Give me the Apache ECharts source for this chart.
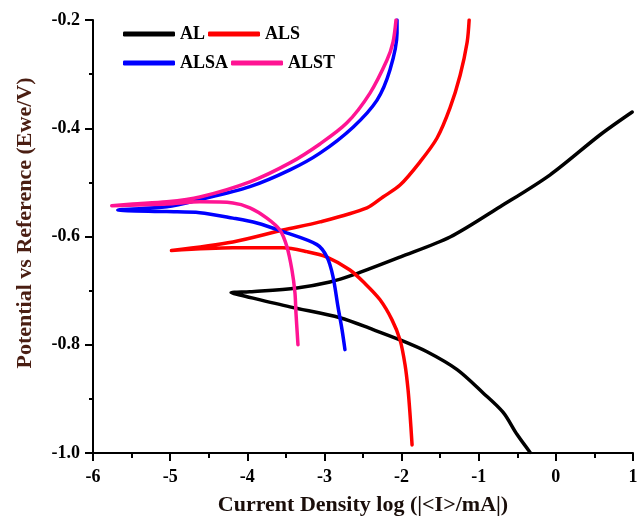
<!DOCTYPE html>
<html>
<head>
<meta charset="utf-8">
<script src="https://cdn.jsdelivr.net/npm/echarts@6/dist/echarts.min.js"></script>
<style>html,body{margin:0;padding:0;background:#fff;}#c{width:642px;height:524px;}</style>
</head>
<body>
<div id="c"></div>
<script>
// Series names
const seriesNames = ['AL', 'ALS', 'ALSA', 'ALST'];
// X tick labels / Y tick labels
const xTicks = [-6, -5, -4, -3, -2, -1, 0, 1];
const yTicks = [-1.0, -0.8, -0.6, -0.4, -0.2];

// AL: cathodic branch (far end -> Ecorr) and anodic branch (Ecorr -> far end)
const alCathodic = [[-0.333,-0.999],[-0.502,-0.966],[-0.683,-0.925],[-0.943,-0.889],[-1.280,-0.846],[-1.670,-0.813],[-2.020,-0.791],[-2.370,-0.772],[-2.798,-0.750],[-3.447,-0.730],[-4.096,-0.708],[-4.210,-0.704]];
const alAnodic = [[-4.210,-0.704],[-3.967,-0.702],[-3.357,-0.695],[-2.929,-0.684],[-2.630,-0.671],[-2.020,-0.638],[-1.371,-0.601],[-0.722,-0.545],[-0.074,-0.486],[0.575,-0.412],[0.990,-0.370]];

// ALS
const alsCathodic = [[-1.864,-0.985],[-1.890,-0.929],[-1.916,-0.883],[-1.955,-0.837],[-2.020,-0.791],[-2.124,-0.754],[-2.279,-0.717],[-2.474,-0.687],[-2.669,-0.662],[-2.967,-0.638],[-3.227,-0.628],[-3.538,-0.621],[-4.187,-0.621],[-4.983,-0.626]];
const alsAnodic = [[-4.983,-0.626],[-4.187,-0.610],[-3.538,-0.588],[-3.058,-0.573],[-2.448,-0.547],[-2.241,-0.527],[-2.020,-0.505],[-1.760,-0.462],[-1.540,-0.418],[-1.371,-0.362],[-1.241,-0.302],[-1.150,-0.241],[-1.124,-0.200]];

// ALSA
const alsaCathodic = [[-2.734,-0.809],[-2.772,-0.772],[-2.824,-0.730],[-2.889,-0.674],[-2.967,-0.638],[-3.097,-0.615],[-3.538,-0.591],[-3.875,-0.575],[-4.187,-0.566],[-4.615,-0.556],[-5.043,-0.554],[-5.679,-0.551]];
const alsaAnodic = [[-5.679,-0.551],[-5.043,-0.545],[-4.615,-0.532],[-3.966,-0.508],[-3.447,-0.477],[-3.058,-0.446],[-2.629,-0.398],[-2.318,-0.348],[-2.150,-0.292],[-2.059,-0.224],[-2.059,-0.200]];

// ALST
const alstCathodic = [[-3.343,-0.800],[-3.369,-0.741],[-3.382,-0.704],[-3.421,-0.662],[-3.486,-0.619],[-3.577,-0.588],[-3.746,-0.566],[-3.966,-0.547],[-4.187,-0.538],[-4.615,-0.536],[-5.043,-0.540],[-5.757,-0.543]];
const alstAnodic = [[-5.757,-0.543],[-5.485,-0.540],[-5.043,-0.536],[-4.615,-0.527],[-3.966,-0.499],[-3.447,-0.464],[-3.058,-0.429],[-2.708,-0.390],[-2.409,-0.335],[-2.189,-0.274],[-2.111,-0.241],[-2.072,-0.200]];

const colors = ['#000000', '#ff0000', '#0000ff', '#ff1493'];
const curves = [
  alCathodic.concat(alAnodic),
  alsCathodic.concat(alsAnodic),
  alsaCathodic.concat(alsaAnodic),
  alstCathodic.concat(alstAnodic)
];

const FONT = '"Liberation Serif", "Times New Roman", serif';
const chart = echarts.init(document.getElementById('c'), null, {renderer: 'canvas'});

const legendCommon = {
  orient: 'horizontal', padding: 0, itemGap: 3, itemWidth: 52, itemHeight: 5,
  icon: 'roundRect',
  textStyle: {fontFamily: FONT, fontWeight: 'bold', fontSize: 18, color: '#000'}
};

chart.setOption({
  animation: false,
  backgroundColor: '#fff',
  color: colors,
  grid: {left: 93, right: 9, top: 20, bottom: 71, containLabel: false},
  legend: [
    Object.assign({data: [seriesNames[0], seriesNames[1]], left: 123, top: 25}, legendCommon),
    Object.assign({data: [seriesNames[2], seriesNames[3]], left: 123, top: 54}, legendCommon)
  ],
  xAxis: {
    type: 'value', min: xTicks[0], max: xTicks[xTicks.length - 1], interval: 1,
    name: 'Current Density log (|<I>/mA|)', nameLocation: 'middle', nameGap: 41,
    nameTextStyle: {fontFamily: FONT, fontWeight: 'bold', fontSize: 22, color: '#1a0e0a'},
    axisLine: {show: true, onZero: false, lineStyle: {color: '#000', width: 2}},
    axisTick: {show: true, inside: false, length: 8, lineStyle: {color: '#000', width: 2}},
    minorTick: {show: true, splitNumber: 2, length: 5, lineStyle: {color: '#000', width: 2}},
    splitLine: {show: false},
    axisLabel: {margin: 15, fontFamily: FONT, fontWeight: 'bold', fontSize: 18, color: '#000',
      formatter: v => String(v)}
  },
  yAxis: {
    type: 'value', min: yTicks[0], max: yTicks[yTicks.length - 1], interval: 0.2,
    name: 'Potential vs Reference (Ewe/V)', nameLocation: 'middle', nameGap: 57, nameRotate: 90,
    nameTextStyle: {fontFamily: FONT, fontWeight: 'bold', fontSize: 22, color: '#4a1e12', padding: [0, 0, 0, 27]},
    axisLine: {show: true, onZero: false, lineStyle: {color: '#000', width: 2}},
    axisTick: {show: true, inside: false, length: 8, lineStyle: {color: '#000', width: 2}},
    minorTick: {show: true, splitNumber: 2, length: 4, lineStyle: {color: '#000', width: 2}},
    splitLine: {show: false},
    axisLabel: {margin: 13, fontFamily: FONT, fontWeight: 'bold', fontSize: 18, color: '#000',
      formatter: v => v.toFixed(1)}
  },
  series: seriesNames.map((n, i) => ({
    name: n, type: 'line', data: curves[i], showSymbol: false, symbol: 'none',
    smooth: 0.3, lineStyle: {width: 3.5, color: colors[i], cap: 'round', join: 'round'},
    itemStyle: {color: colors[i]}, z: 2 + i
  }))
});
</script>
</body>
</html>
